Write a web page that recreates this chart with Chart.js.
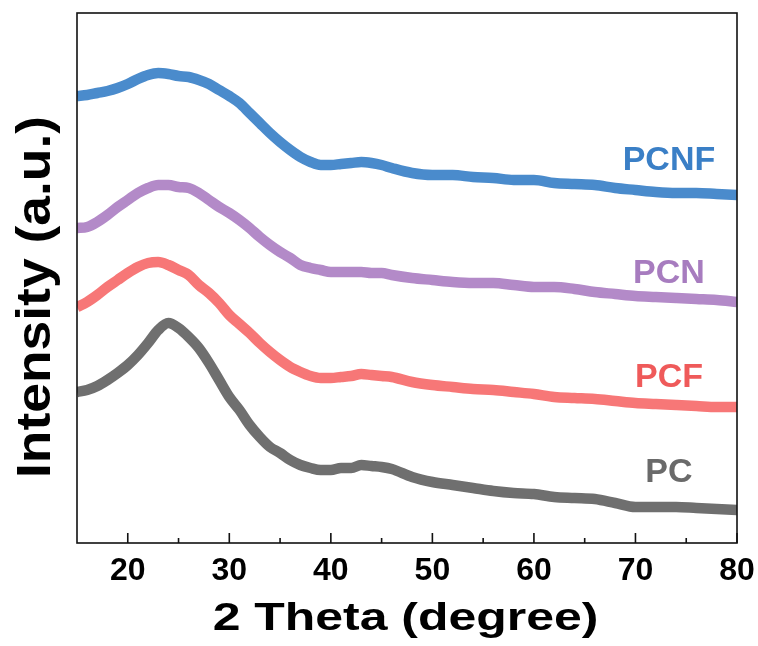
<!DOCTYPE html>
<html>
<head>
<meta charset="utf-8">
<script src="https://cdn.jsdelivr.net/npm/chart.js@4/dist/chart.umd.min.js"></script>
<style>
  html, body { margin: 0; padding: 0; background: #fff; }
  #wrap { width: 758px; height: 646px; }
</style>
</head>
<body>
<div id="wrap"><canvas id="xrd"></canvas></div>
<script>
// 2 theta (degree)
const theta = [15,16,17,18,19,20,21,22,23,24,25,26,27,28,29,30,31,32,33,34,35,36,37,38,39,40,41,42,43,44,45,
  46,48,50,52,54,56,58,60,62,64,66,68,70,72,74,76,78,80];

// intensity (a.u., curves stacked with offset)
const pcnf = [447,448,450,452,455,459,464,468,470,469,467,466,463,459,453,447,440,430,420,410,401,393,386,381,378,378,379,380,381,380,378,
  375,370,368,368,366,365,363,363,360,359,358,355,353,351,350,350,349,348];
const pcn = [315,316,321,328,336,343,350,355,358,358,356,355,350,343,336,330,323,315,306,298,291,285,278,275,273,271,271,271,271,270,270,
  268,265,263,261,260,260,258,256,256,254,251,249,247,246,245,244,243,241];
const pcf = [236,241,248,256,263,270,276,280,281,278,273,268,258,250,240,228,219,210,200,191,183,176,171,167,165,165,166,167,169,168,167,
  166,161,158,156,154,153,151,149,146,145,144,142,140,139,138,137,136,136];
const pc = [151,153,157,163,170,178,188,200,213,220,215,206,195,180,163,146,133,118,106,96,90,83,78,75,73,73,75,75,78,77,76,
  74,66,61,58,55,52,50,49,46,45,44,40,36,36,36,35,34,33];

const seriesNames = ['PC', 'PCF', 'PCN', 'PCNF'];
const majorTicks = [20,30,40,50,60,70,80];
const minorTicks = [25,35,45,55,65,75];

const colors = { PC: '#6f6f6f', PCF: '#f77777', PCN: '#b38ac8', PCNF: '#4a8bcc' };
const labelColors = { PC: '#6a6a6a', PCF: '#ef5a5a', PCN: '#a77cbf', PCNF: '#3a7fc6' };
// where each curve name sits (data units)
const labelAt = { PCNF: [73.3, 373], PCN: [73.3, 260], PCF: [73.3, 156], PC: [73.3, 61] };

const FONT = '"Liberation Sans", Arial, sans-serif';

const toPts = ys => theta.map((t, i) => ({ x: t, y: ys[i] }));
const values = { PC: pc, PCF: pcf, PCN: pcn, PCNF: pcnf };

// frame, inward ticks, titles, curve names
const decor = {
  id: 'decor',
  afterDraw(chart) {
    const { ctx, chartArea: a, scales: { x, y } } = chart;
    ctx.save();
    ctx.strokeStyle = '#111';
    ctx.lineWidth = 1.6;
    ctx.strokeRect(a.left, a.top, a.right - a.left, a.bottom - a.top);
    ctx.beginPath();
    majorTicks.forEach(v => { const px = x.getPixelForValue(v); ctx.moveTo(px, a.bottom); ctx.lineTo(px, a.bottom - 10); });
    minorTicks.forEach(v => { const px = x.getPixelForValue(v); ctx.moveTo(px, a.bottom); ctx.lineTo(px, a.bottom - 5); });
    ctx.stroke();

    ctx.fillStyle = '#000';
    ctx.font = 'bold 39px ' + FONT;
    ctx.textAlign = 'center';
    ctx.textBaseline = 'alphabetic';
    ctx.save();
    ctx.translate((a.left + a.right) / 2 - 1.5, 630);
    ctx.scale(1.28, 1);
    ctx.fillText('2 Theta (degree)', 0, 0);
    ctx.restore();

    ctx.save();
    ctx.font = 'bold 49px ' + FONT;
    ctx.translate(50, (a.top + a.bottom) / 2 + 19);
    ctx.rotate(-Math.PI / 2);
    ctx.scale(1.09, 1);
    ctx.fillText('Intensity (a.u.)', 0, 0);
    ctx.restore();

    ctx.font = 'bold 34px ' + FONT;
    seriesNames.forEach(n => {
      ctx.fillStyle = labelColors[n];
      ctx.fillText(n, x.getPixelForValue(labelAt[n][0]), y.getPixelForValue(labelAt[n][1]));
    });
    ctx.restore();
  }
};

new Chart(document.getElementById('xrd'), {
  type: 'line',
  data: {
    datasets: seriesNames.map(n => ({
      label: n,
      data: toPts(values[n]),
      borderColor: colors[n],
      borderWidth: 10.5,
      pointRadius: 0,
      cubicInterpolationMode: 'monotone',
      clip: 0,
      borderCapStyle: 'butt',
      borderJoinStyle: 'round'
    }))
  },
  options: {
    responsive: true,
    maintainAspectRatio: false,
    animation: false,
    layout: { padding: { left: 77, right: 21, top: 13, bottom: 0 } },
    plugins: { legend: { display: false }, tooltip: { enabled: false } },
    scales: {
      x: {
        type: 'linear',
        min: 15,
        max: 80,
        afterBuildTicks: s => { s.ticks = majorTicks.map(v => ({ value: v })); },
        afterFit: s => { s.height = 103; s.paddingLeft = 0; s.paddingRight = 0; },
        grid: { display: false, drawTicks: false },
        border: { display: false },
        ticks: { padding: 9, color: '#000', font: { family: FONT, size: 32, weight: 'bold' } }
      },
      y: {
        min: 0,
        max: 530,
        afterFit: s => { s.width = 0; },
        grid: { display: false, drawTicks: false },
        border: { display: false },
        ticks: { display: false }
      }
    }
  },
  plugins: [decor]
});
</script>
</body>
</html>
